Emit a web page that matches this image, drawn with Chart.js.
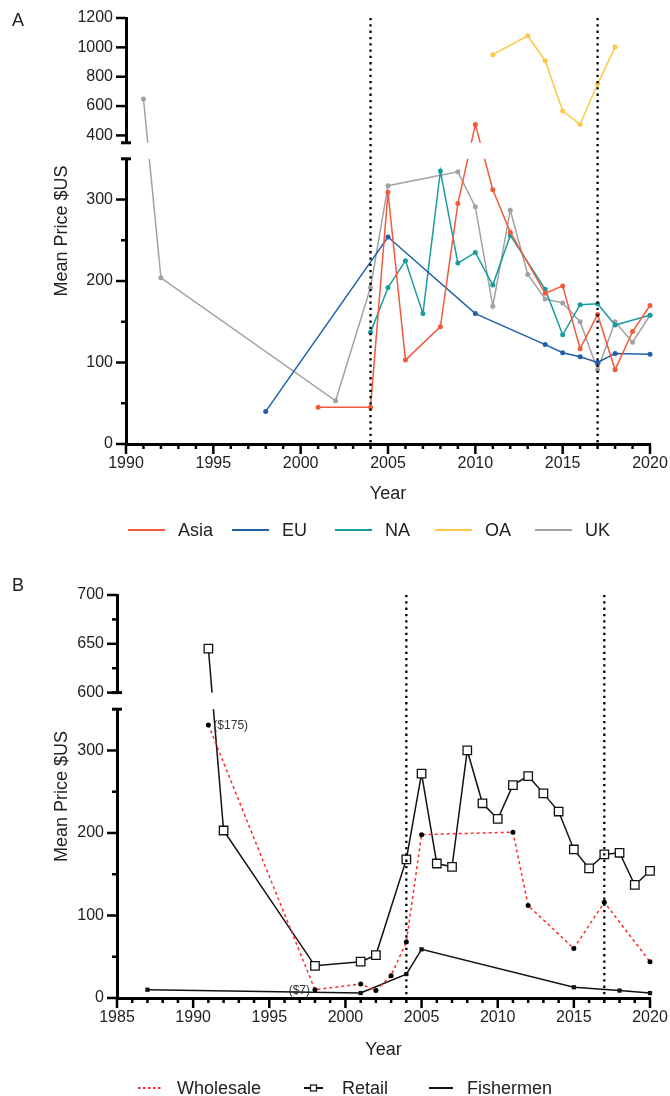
<!DOCTYPE html>
<html>
<head>
<meta charset="utf-8">
<script src="https://cdn.jsdelivr.net/npm/chart.js@4.4.1/dist/chart.umd.min.js"></script>
<style>
  html, body { margin: 0; padding: 0; background: #fff; }
  body { width: 670px; height: 1096px; position: relative; overflow: hidden; font-family: 'Liberation Sans', Arial, sans-serif; }
  .panel { position: absolute; left: 0; }
  #wrapA { top: 0; }
  #wrapB { top: 560px; }
  .tag { position: absolute; left: 12px; font-size: 18px; line-height: 22px; color: #222; }
</style>
</head>
<body>
<div class="panel" id="wrapA"><canvas id="chartA" width="670" height="560"></canvas></div>
<div class="panel" id="wrapB"><canvas id="chartB" width="670" height="536"></canvas></div>
<div class="tag" style="top:9px">A</div>
<div class="tag" style="top:574px">B</div>
<script>
// ---- panel A data (mean price by region) ----
var asiaYears = [2001, 2004, 2005, 2006, 2008, 2009, 2010, 2011, 2012, 2014, 2015, 2016, 2017, 2018, 2019, 2020];
var asiaPrice = [45, 45, 309, 103, 144, 295, 475, 312, 260, 185, 194, 117, 159, 91, 138, 170];
var euYears = [1998, 2005, 2010, 2014, 2015, 2016, 2017, 2018, 2020];
var euPrice = [40, 254, 160, 122, 112, 107, 100, 111, 110];
var naYears = [2004, 2005, 2006, 2007, 2008, 2009, 2010, 2011, 2012, 2014, 2015, 2016, 2017, 2018, 2020];
var naPrice = [137, 192, 225, 160, 335, 222, 235, 195, 256, 190, 134, 171, 172, 146, 158];
var oaYears = [2011, 2013, 2014, 2015, 2016, 2017, 2018];
var oaPrice = [950, 1079, 909, 566, 475, 750, 1002];
var ukYears = [1991, 1992, 2002, 2004, 2005, 2009, 2010, 2011, 2012, 2013, 2014, 2015, 2016, 2017, 2018, 2019, 2020];
var ukPrice = [648, 204, 53, 192, 317, 334, 291, 169, 287, 208, 178, 173, 150, 91, 150, 125, 158];

var yTicksA = [0, 50, 100, 150, 200, 250, 300, 400, 600, 800, 1000, 1200];
var yLabelsA = [0, 100, 200, 300, 400, 600, 800, 1000, 1200];

// ---- panel B data (supply chain level) ----
var wholesaleYears = [1991, 1998, 2001, 2002, 2003, 2004, 2005, 2011, 2012, 2015, 2017, 2020];
var wholesalePrice = [331, 10, 17, 9, 27, 68, 198, 201, 112, 60, 116, 44];
var retailYears = [1991, 1992, 1998, 2001, 2002, 2004, 2005, 2006, 2007, 2008, 2009, 2010, 2011, 2012, 2013, 2014, 2015, 2016, 2017, 2018, 2019, 2020];
var retailPrice = [645, 203, 39, 44, 52, 168, 272, 163, 159, 300, 236, 217, 258, 269, 248, 226, 180, 157, 174, 176, 137, 154];
var fishermenYears = [1987, 2001, 2004, 2005, 2015, 2018, 2020];
var fishermenPrice = [10, 6, 29, 59, 13, 9, 6];

var yTicksB = [0, 50, 100, 150, 200, 250, 300, 600, 625, 650, 675, 700];
var yLabelsB = [0, 100, 200, 300, 600, 650, 700];

// point notes on wholesale series
var noteYears = [1991, 1998];
var notePrice = [331, 10];
var noteTexts = ['($175)', '($7)'];

// the dotted reference years
var refYears = [2004, 2017];

var FONT = "'Liberation Sans', Arial, sans-serif";
var INK = '#222';

function pts(xs, ys) {
  return xs.map(function(x, i) { return {x: x, y: ys[i]}; });
}

// linear scale with a break in it: low part, white gap, high part
class BrokenScale extends Chart.LinearScale {
  buildTicks() {
    return this.options.tickValues.map(function(v) { return {value: v}; });
  }
  brkDecimal(value) {
    var b = this.options.brk;
    var hi = 1 - b.lowFrac - b.gapFrac;
    if (value <= b.lowMax) return (value - this.min) / (b.lowMax - this.min) * b.lowFrac;
    if (value >= b.highMin) return b.lowFrac + b.gapFrac + (value - b.highMin) / (this.max - b.highMin) * hi;
    return b.lowFrac + b.gapFrac * (value - b.lowMax) / (b.highMin - b.lowMax);
  }
  getPixelForValue(value) {
    if (value === null || value === undefined) return NaN;
    return this.getPixelForDecimal(this.brkDecimal(value));
  }
  getValueForPixel(pixel) {
    var b = this.options.brk;
    var d = this.getDecimalForPixel(pixel);
    var hi = 1 - b.lowFrac - b.gapFrac;
    if (d <= b.lowFrac) return this.min + d / b.lowFrac * (b.lowMax - this.min);
    if (d >= b.lowFrac + b.gapFrac) return b.highMin + (d - b.lowFrac - b.gapFrac) / hi * (this.max - b.highMin);
    return b.lowMax;
  }
}
BrokenScale.id = 'broken';
BrokenScale.defaults = {};
Chart.register(BrokenScale);

// draws the break, dotted year lines, tick marks, notes and the legend
var decor = {
  id: 'decor',
  afterDatasetsDraw: function(chart, args, opts) {
    var ctx = chart.ctx, area = chart.chartArea;
    var xs = chart.scales.x, ys = chart.scales.y;
    var b = ys.options.brk;
    var gLow = ys.getPixelForDecimal(b.lowFrac);
    var gHigh = ys.getPixelForDecimal(b.lowFrac + b.gapFrac);
    ctx.save();

    // white gap over lines + axis
    ctx.fillStyle = '#fff';
    ctx.fillRect(area.left - 8, gHigh, area.right - area.left + 14, gLow - gHigh);

    // dotted vertical lines
    ctx.strokeStyle = '#000';
    ctx.lineWidth = 2.3;
    ctx.setLineDash([2.3, 4]);
    refYears.forEach(function(yr) {
      var px = xs.getPixelForValue(yr);
      ctx.beginPath();
      ctx.moveTo(px, area.top);
      ctx.lineTo(px, area.bottom);
      ctx.stroke();
    });
    ctx.setLineDash([]);

    // break caps
    ctx.lineWidth = 3;
    [gLow, gHigh].forEach(function(p) {
      ctx.beginPath();
      ctx.moveTo(area.left - 5, p);
      ctx.lineTo(area.left + 5, p);
      ctx.stroke();
    });

    // tick marks (major = labelled)
    ctx.lineWidth = 2.5;
    ys.ticks.forEach(function(t) {
      var p = ys.getPixelForValue(t.value);
      var len = t.label ? 10 : 5;
      ctx.beginPath();
      ctx.moveTo(area.left - len, p);
      ctx.lineTo(area.left, p);
      ctx.stroke();
    });
    xs.ticks.forEach(function(t) {
      var p = xs.getPixelForValue(t.value);
      var len = t.label ? 10 : 5;
      ctx.beginPath();
      ctx.moveTo(p, area.bottom);
      ctx.lineTo(p, area.bottom + len);
      ctx.stroke();
    });

    // notes beside points
    if (opts.notes) {
      ctx.font = '12px ' + FONT;
      ctx.fillStyle = '#333';
      ctx.textBaseline = 'middle';
      opts.notes.forEach(function(n) {
        var px = xs.getPixelForValue(n.x), py = ys.getPixelForValue(n.y);
        ctx.textAlign = n.side > 0 ? 'left' : 'right';
        ctx.fillText(n.text, px + n.side * 5, py + 1);
      });
    }

    // legend
    var lg = opts.legend;
    ctx.font = '18px ' + FONT;
    ctx.textBaseline = 'middle';
    ctx.textAlign = 'left';
    chart.data.datasets.forEach(function(ds, i) {
      var it = lg.items[i];
      ctx.strokeStyle = ds.borderColor;
      ctx.lineWidth = 2;
      ctx.setLineDash(ds.borderDash ? [2.5, 2.5] : []);
      ctx.beginPath();
      ctx.moveTo(it[0], lg.y);
      ctx.lineTo(it[1], lg.y);
      ctx.stroke();
      ctx.setLineDash([]);
      if (ds.pointStyle === 'rect' && ds.pointBackgroundColor === '#fff') {
        ctx.fillStyle = '#fff';
        ctx.lineWidth = 1.2;
        var mx = (it[0] + it[1]) / 2;
        ctx.fillRect(mx - 3, lg.y - 3, 6, 6);
        ctx.strokeRect(mx - 3, lg.y - 3, 6, 6);
      }
      ctx.fillStyle = INK;
      ctx.fillText(ds.label, it[2], lg.y + 1);
    });
    ctx.restore();
  }
};

function lineSet(label, xs, ys, color) {
  return {
    label: label,
    data: pts(xs, ys),
    borderColor: color,
    backgroundColor: color,
    pointBackgroundColor: color,
    pointBorderColor: color,
    borderWidth: 1.5,
    pointRadius: 2.5,
    pointBorderWidth: 0,
    tension: 0,
    clip: 10 // let the 2020 points show whole
  };
}

function xAxis(min, max, h) {
  return {
    type: 'linear', min: min, max: max,
    ticks: {
      stepSize: 1, autoSkip: false, maxRotation: 0, padding: 1,
      font: {size: 16, family: FONT}, color: INK,
      callback: function(v) { return v % 5 === 0 ? String(v) : ''; }
    },
    grid: {drawOnChartArea: false, tickLength: 9, tickColor: 'rgba(0,0,0,0)'},
    border: {color: '#000', width: 3},
    title: {display: true, text: 'Year', font: {size: 18, family: FONT}, color: INK, padding: {top: 0, bottom: 4}},
    afterFit: function(s) { s.height = h; }
  };
}

function yAxis(min, max, brk, tickValues, labels, w) {
  return {
    type: 'broken', min: min, max: max,
    brk: brk,
    tickValues: tickValues,
    ticks: {
      autoSkip: false, padding: 3,
      font: {size: 16, family: FONT}, color: INK,
      callback: function(v) { return labels.indexOf(v) >= 0 ? String(v) : ''; }
    },
    grid: {drawOnChartArea: false, tickLength: 10, tickColor: 'rgba(0,0,0,0)'},
    border: {color: '#000', width: 3},
    title: {display: true, text: 'Mean Price $US', font: {size: 18, family: FONT}, color: INK, padding: {top: 51, bottom: 0}},
    afterFit: function(s) { s.width = w; }
  };
}

var chartA = new Chart(document.getElementById('chartA'), {
  type: 'line',
  data: {
    datasets: [
      lineSet('Asia', asiaYears, asiaPrice, '#f4593b'),
      lineSet('EU', euYears, euPrice, '#1f60a8'),
      lineSet('NA', naYears, naPrice, '#1a9c9e'),
      lineSet('OA', oaYears, oaPrice, '#fcc845'),
      lineSet('UK', ukYears, ukPrice, '#a2a2a4')
    ]
  },
  options: {
    responsive: false,
    animation: false,
    layout: {padding: {left: 0, right: 20, top: 18, bottom: 51}},
    scales: {
      x: xAxis(1990, 2020, 65),
      y: yAxis(0, 1200, {lowMax: 350, highMin: 350, lowFrac: 0.6695, gapFrac: 0.0376}, yTicksA, yLabelsA, 126)
    },
    plugins: {
      legend: {display: false},
      tooltip: {enabled: false},
      decor: {
        legend: {y: 530, items: [[128, 165, 178], [232, 269, 282], [335, 372, 385], [435, 472, 485], [535, 572, 585]]}
      }
    }
  },
  plugins: [decor]
});

var wholesale = lineSet('Wholesale', wholesaleYears, wholesalePrice, '#ff2b2b');
wholesale.borderDash = [3, 3];
wholesale.pointBackgroundColor = '#000';
wholesale.pointBorderColor = '#000';

var retail = lineSet('Retail', retailYears, retailPrice, '#111');
retail.pointStyle = 'rect';
retail.pointRadius = 6;
retail.pointBackgroundColor = '#fff';
retail.pointBorderColor = '#111';
retail.pointBorderWidth = 1.3;

var fishermen = lineSet('Fishermen', fishermenYears, fishermenPrice, '#111');
fishermen.pointStyle = 'rect';
fishermen.pointRadius = 3;

var chartB = new Chart(document.getElementById('chartB'), {
  type: 'line',
  data: {datasets: [wholesale, retail, fishermen]},
  options: {
    responsive: false,
    animation: false,
    layout: {padding: {left: 0, right: 20, top: 35, bottom: 31}},
    scales: {
      x: xAxis(1985, 2020, 67),
      y: yAxis(0, 700, {lowMax: 350, highMin: 600, lowFrac: 0.7166, gapFrac: 0.0412}, yTicksB, yLabelsB, 117)
    },
    plugins: {
      legend: {display: false},
      tooltip: {enabled: false},
      decor: {
        notes: noteYears.map(function(yr, i) { return {x: yr, y: notePrice[i], text: noteTexts[i], side: i === 0 ? 1 : -1}; }),
        legend: {y: 528, items: [[138, 163, 177], [304, 323, 342], [429, 453, 467]]}
      }
    }
  },
  plugins: [decor]
});
</script>
</body>
</html>
